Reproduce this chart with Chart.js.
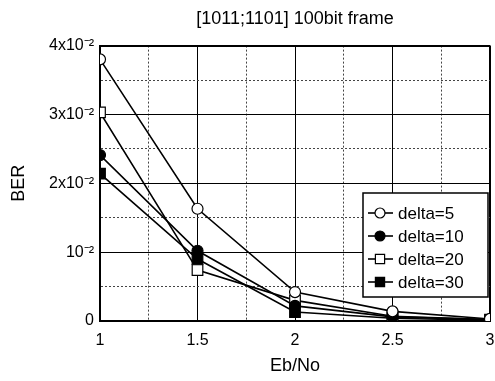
<!DOCTYPE html>
<html>
<head>
<meta charset="utf-8">
<script src="https://cdn.jsdelivr.net/npm/chart.js@4.4.0/dist/chart.umd.min.js"></script>
<style>
  html, body { margin: 0; padding: 0; background: #fff; }
</style>
</head>
<body>
<canvas id="chart" width="495" height="381"></canvas>
<script>
// values
var ebNo = [1, 1.5, 2, 2.5, 3]
var delta5 = [0.0380, 0.0163, 0.0042, 0.0014, 0.0003]
var delta10 = [0.0241, 0.0102, 0.0022, 0.0006, 0.0002]
var delta20 = [0.0303, 0.0074, 0.0030, 0.0007, 0.0002]
var delta30 = [0.0214, 0.0090, 0.0013, 0.0004, 0.0001]
var seriesNames = ['delta=5', 'delta=10', 'delta=20', 'delta=30']
var xTickLabels = ['1', '1.5', '2', '2.5', '3']
var yTickLabels = ['0', '10⁻²', '2x10⁻²', '3x10⁻²', '4x10⁻²']

var FONT = '"Liberation Sans", Arial, Helvetica, sans-serif'

function points(ys) {
    return ebNo.map((x, i) => ({ x: x, y: ys[i] }))
}

function series(label, ys, style, filled) {
    return {
        label: label,
        data: points(ys),
        borderColor: '#000',
        borderWidth: 1.6,
        pointStyle: style,
        pointRadius: style == 'rect' ? 7.5 : 5.5,
        pointBackgroundColor: filled ? '#000' : '#fff',
        pointBorderColor: '#000',
        pointBorderWidth: 1.2,
        tension: 0
    }
}

// minor grid line = odd tick index (half steps)
function isMinor(ctx, start, step) {
    if (!ctx.tick) return false
    return Math.round((ctx.tick.value - start) / step) % 2 == 1
}

//Draws the boxed legend inside the lower right of the plot
var boxLegend = {
    id: 'boxLegend',
    afterDraw(chart) {
        let ctx = chart.ctx
        let area = chart.chartArea
        let w = 125, h = 104
        let left = area.right - w - 2
        let top = area.bottom - h - 24
        ctx.save()
        ctx.fillStyle = '#fff'
        ctx.fillRect(left, top, w, h)
        ctx.lineWidth = 1.5
        ctx.strokeStyle = '#000'
        ctx.strokeRect(left, top, w, h)
        chart.data.datasets.forEach((ds, i) => {
            let y = top + 20 + i * 23
            ctx.beginPath()
            ctx.strokeStyle = ds.borderColor
            ctx.lineWidth = ds.borderWidth
            ctx.moveTo(left + 5, y)
            ctx.lineTo(left + 30, y)
            ctx.stroke()
            ctx.fillStyle = ds.pointBackgroundColor
            ctx.strokeStyle = ds.pointBorderColor
            ctx.lineWidth = ds.pointBorderWidth
            Chart.helpers.drawPoint(ctx, {
                pointStyle: ds.pointStyle,
                radius: ds.pointStyle == 'rect' ? 6.5 : 5,
                rotation: 0,
                borderWidth: ds.pointBorderWidth
            }, left + 17, y)
            ctx.fillStyle = '#000'
            ctx.font = '17px ' + FONT
            ctx.textBaseline = 'middle'
            ctx.fillText(ds.label, left + 35, y + 1)
        })
        ctx.restore()
    }
}

new Chart(document.getElementById('chart'), {
    type: 'line',
    data: {
        datasets: [
            series(seriesNames[0], delta5, 'circle', false),
            series(seriesNames[1], delta10, 'circle', true),
            series(seriesNames[2], delta20, 'rect', false),
            series(seriesNames[3], delta30, 'rect', true)
        ]
    },
    options: {
        responsive: false,
        animation: false,
        devicePixelRatio: 1,
        layout: { autoPadding: false, padding: { left: 8, right: 0, top: 0, bottom: 2 } },
        plugins: {
            legend: { display: false },
            tooltip: { enabled: false },
            title: {
                display: true,
                text: '[1011;1101] 100bit frame',
                color: '#000',
                fullSize: false,
                font: { family: FONT, size: 18, weight: 'normal' },
                padding: { top: 8, bottom: 16 }
            }
        },
        scales: {
            x: {
                type: 'linear',
                min: 1,
                max: 3,
                afterFit: (s) => {
                    s.height = 58
                    s.paddingLeft = 0
                    s.paddingRight = 5
                },
                ticks: {
                    stepSize: 0.25,
                    autoSkip: false,
                    maxRotation: 0,
                    padding: 10,
                    color: '#000',
                    font: { family: FONT, size: 16 },
                    callback: (v) => {
                        let i = Math.round((v - 1) / 0.25)
                        return i % 2 == 0 ? xTickLabels[i / 2] : ''
                    }
                },
                grid: {
                    drawTicks: false,
                    color: (ctx) => isMinor(ctx, 1, 0.25) ? '#444' : '#000',
                    lineWidth: (ctx) => {
                        if (isMinor(ctx, 1, 0.25)) return 1
                        return ctx.tick && ctx.tick.value == 3 ? 2 : 1
                    }
                },
                border: {
                    color: '#000',
                    width: 2,
                    dash: (ctx) => isMinor(ctx, 1, 0.25) ? [2, 2] : []
                },
                title: {
                    display: true,
                    text: 'Eb/No',
                    color: '#000',
                    font: { family: FONT, size: 18 },
                    padding: { top: 4, bottom: 2 }
                }
            },
            y: {
                min: 0,
                max: 0.04,
                afterFit: (s) => { s.width = 92 },
                ticks: {
                    stepSize: 0.005,
                    autoSkip: false,
                    padding: 6,
                    color: '#000',
                    font: { family: FONT, size: 16 },
                    callback: (v) => {
                        let i = Math.round(v / 0.005)
                        return i % 2 == 0 ? yTickLabels[i / 2] : ''
                    }
                },
                grid: {
                    drawTicks: false,
                    color: (ctx) => isMinor(ctx, 0, 0.005) ? '#444' : '#000',
                    lineWidth: (ctx) => {
                        if (isMinor(ctx, 0, 0.005)) return 1
                        return ctx.tick && Math.abs(ctx.tick.value - 0.04) < 1e-9 ? 2 : 1
                    }
                },
                border: {
                    color: '#000',
                    width: 2,
                    dash: (ctx) => isMinor(ctx, 0, 0.005) ? [2, 2] : []
                },
                title: {
                    display: true,
                    text: 'BER',
                    color: '#000',
                    font: { family: FONT, size: 18 },
                    padding: { top: 0, bottom: 2 }
                }
            }
        }
    },
    plugins: [boxLegend]
})
</script>
</body>
</html>
